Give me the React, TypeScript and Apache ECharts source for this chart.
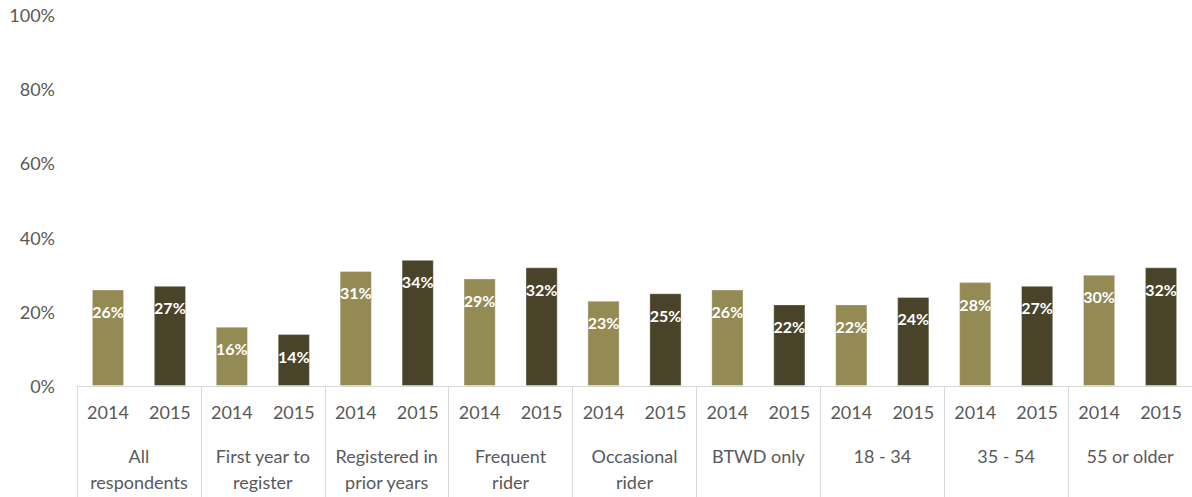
import React, { useEffect, useRef } from "react";
import * as echarts from "echarts";

const groups = [
  "All\nrespondents",
  "First year to\nregister",
  "Registered in\nprior years",
  "Frequent\nrider",
  "Occasional\nrider",
  "BTWD only",
  "18 - 34",
  "35 - 54",
  "55 or older",
];
const years = ["2014", "2015"];
const values2014 = [26, 16, 31, 29, 23, 26, 22, 28, 30];
const values2015 = [27, 14, 34, 32, 25, 22, 24, 27, 32];
const yTicks = { min: 0, max: 100, interval: 20 };

const COLOR_2014 = "#948A54";
const COLOR_2015 = "#494429";
const TEXT = "#595959";
const FONT = "Lato, 'Open Sans', sans-serif";

export default function App() {
  const ref = useRef<HTMLDivElement>(null);
  useEffect(() => {
    if (!ref.current) return;
    const chart = echarts.init(ref.current, undefined, { renderer: "svg" });
    const yearCats: string[] = [];
    const data: any[] = [];
    groups.forEach((g, i) => {
      yearCats.push(years[0], years[1]);
      data.push({ value: values2014[i], itemStyle: { color: COLOR_2014 } });
      data.push({ value: values2015[i], itemStyle: { color: COLOR_2015 } });
    });
    chart.setOption({
      animation: false,
      grid: { left: 77, right: 0, top: 15, bottom: 111, containLabel: false },
      xAxis: [
        {
          type: "category",
          data: yearCats,
          position: "bottom",
          axisLine: { show: true, lineStyle: { color: "#d9d9d9", width: 1 } },
          axisTick: { show: false },
          axisLabel: {
            interval: 0,
            color: TEXT,
            fontSize: 18,
            fontFamily: FONT,
            margin: 17,
          },
        },
        {
          type: "category",
          data: groups,
          position: "bottom",
          axisLine: { show: false },
          axisTick: {
            show: true,
            interval: 0,
            length: 111,
            lineStyle: { color: "#d9d9d9", width: 1 },
          },
          axisLabel: {
            interval: 0,
            color: TEXT,
            fontSize: 18,
            fontFamily: FONT,
            lineHeight: 26,
            margin: 57,
            align: "center",
          },
        },
      ],
      yAxis: {
        type: "value",
        min: yTicks.min,
        max: yTicks.max,
        interval: yTicks.interval,
        splitLine: { show: false },
        axisLine: { show: false },
        axisTick: { show: false },
        axisLabel: {
          formatter: "{value}%",
          color: TEXT,
          fontSize: 18,
          fontFamily: FONT,
          margin: 22,
        },
      },
      series: [
        {
          type: "bar",
          xAxisIndex: 0,
          data,
          barWidth: "52%",
          itemStyle: { borderColor: "rgba(255,255,255,0.35)", borderWidth: 1 },
          label: {
            show: true,
            position: "insideTop",
            distance: 14,
            formatter: "{c}%",
            color: "#ffffff",
            fontWeight: "bold",
            fontSize: 16,
            fontFamily: FONT,
          },
        },
      ],
    });
    return () => chart.dispose();
  }, []);
  return (
    <div
      ref={ref}
      style={{ position: "fixed", left: 0, top: 0, width: 1192, height: 497, background: "#fff" }}
    />
  );
}
